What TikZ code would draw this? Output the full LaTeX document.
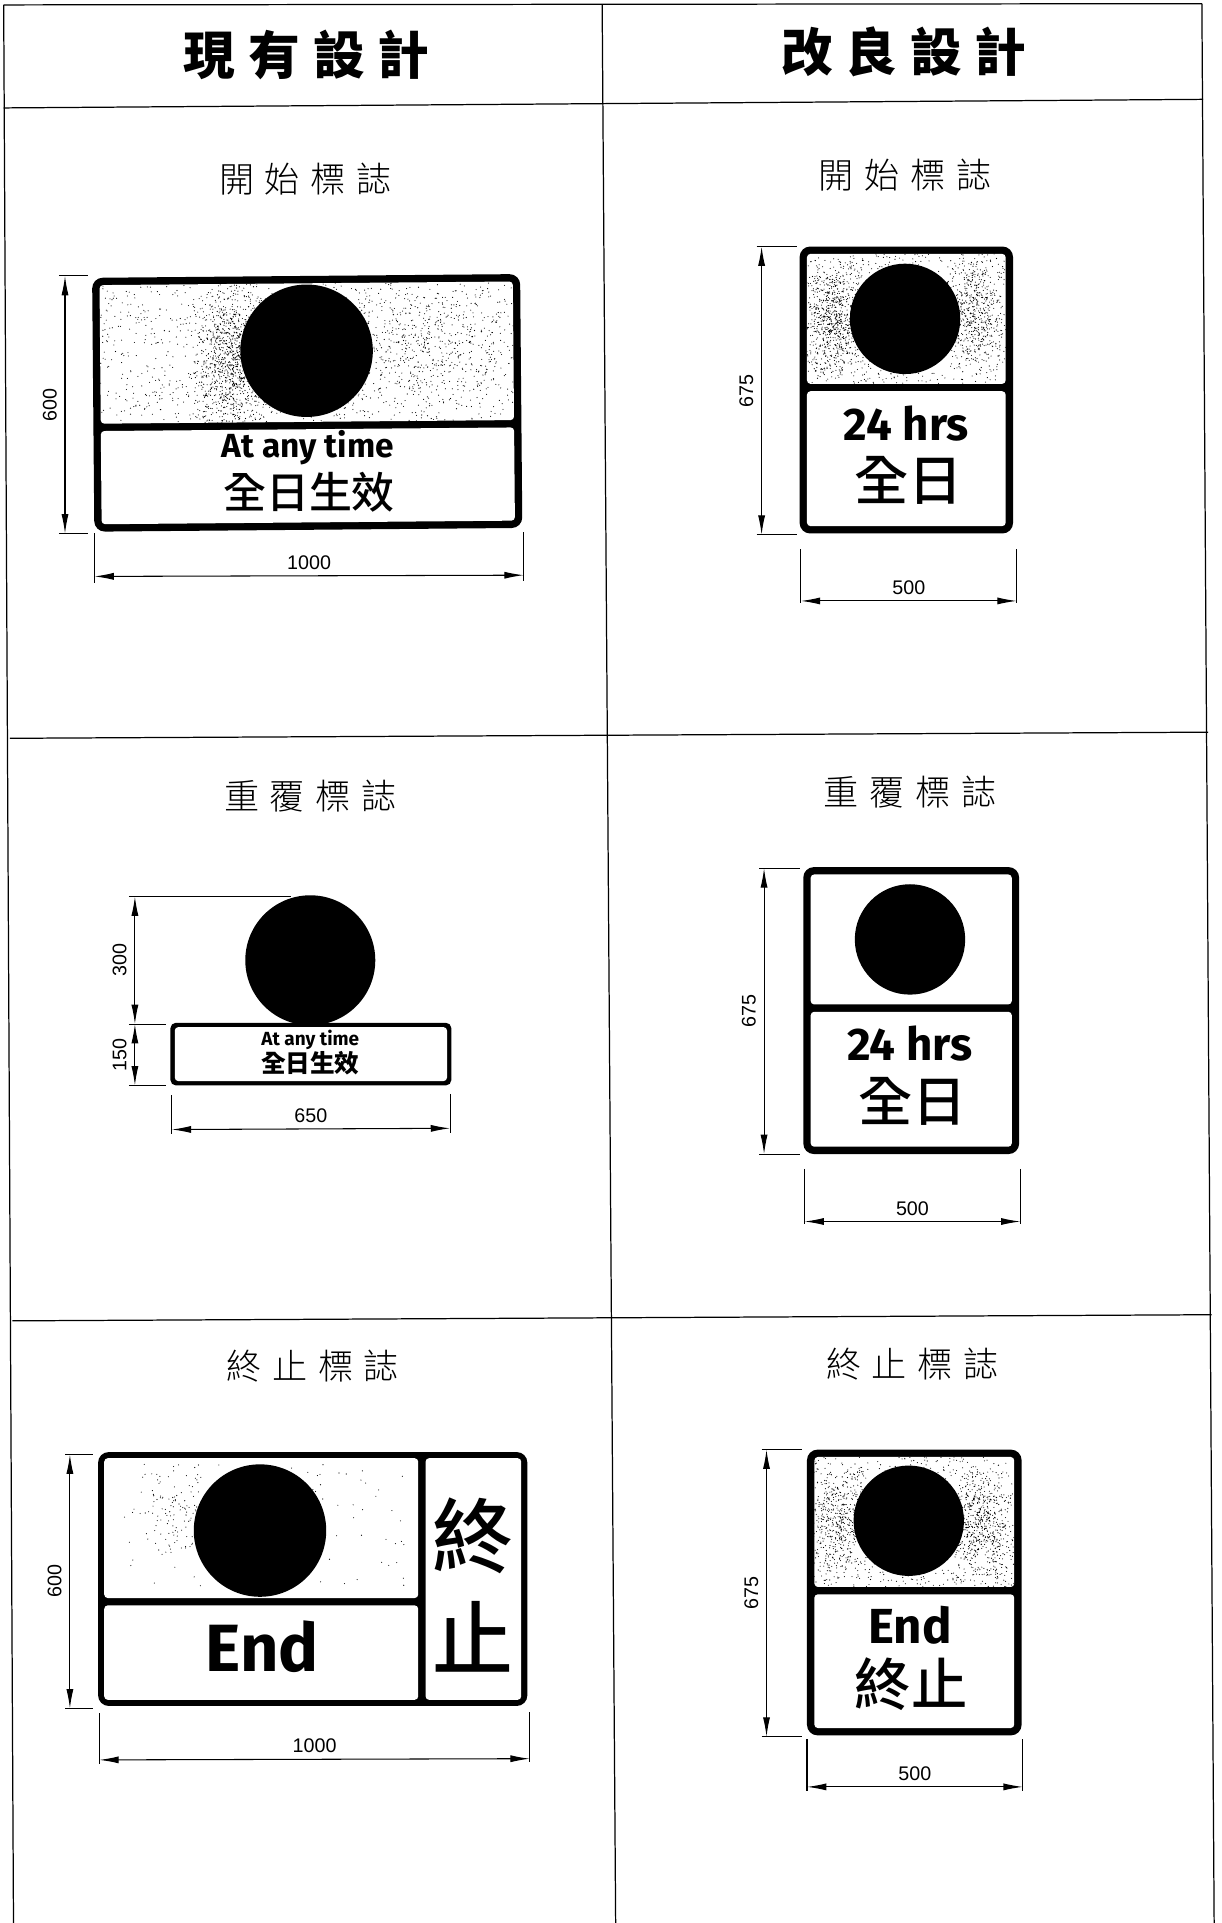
\documentclass[tikz,border=0pt]{standalone}
\usepackage{fontspec}
\usetikzlibrary{arrows.meta}
\setmainfont{Liberation Sans}
\newfontfamily\cjk{Noto Sans CJK TC}
\newfontfamily\cjkmed{Noto Sans CJK TC Medium}
\newfontfamily\cjklight{Noto Sans CJK TC Light}
\newfontfamily\signfont{Fira Sans}
\newcommand{\speckle}[5]{\fill \foreach \i in {1,...,#5} {({#1+rnd*#3},{#2+rnd*#4}) circle (0.45)};}
\newcommand{\speckleblob}[5]{\fill \foreach \i in {1,...,#5} {({#1+(rnd+rnd-1)*#3},{#2+(rnd+rnd-1)*#4}) circle (0.45)};}
\tikzset{
  sheetline/.style={line width=0.35pt},
  signback/.style={fill=black, rounded corners=3pt},
  panel/.style={fill=white, rounded corners=1pt},
  disc/.style={fill=black},
  dimension/.style={line width=0.3pt, {Latex[length=5.5pt,width=2pt]}-{Latex[length=5.5pt,width=2pt]}},
  extension/.style={line width=0.3pt},
  dimv/.style={midway, rotate=90, anchor=south, font=\fontsize{5.6}{6}\selectfont, inner sep=2.2pt},
  dimh/.style={midway, anchor=south, font=\fontsize{5.6}{6}\selectfont, inner sep=1.6pt},
  heading/.style={font=\cjk\bfseries\fontsize{14.7}{16}\selectfont},
  signtitle/.style={font=\cjklight\fontsize{10}{12}\selectfont},
}
\begin{document}
\begin{tikzpicture}[x=0.012259cm, y=-0.012259cm]
\useasboundingbox (0,0) rectangle (996,1568);
\pgfmathsetseed{4711}
% table
\draw[sheetline] (3,4) -- (980,3);
\draw[sheetline] (3,4) -- (11,1568);
\draw[sheetline] (491,4) -- (502,1568);
\draw[sheetline] (980,3) -- (990,1568);
\draw[sheetline] (3,88) -- (981,81);
\draw[sheetline] (8,602) -- (985,597);
\draw[sheetline] (10,1077) -- (988,1072);
\node (headold) at (250,45) [heading] {現\hspace{.25em}有\hspace{.25em}設\hspace{.25em}計};
\node (headnew) at (737,42) [heading] {改\hspace{.25em}良\hspace{.25em}設\hspace{.25em}計};
% start sign, current
\node (titlea) at (249,146) [signtitle] {開\hspace{.3em}始\hspace{.3em}標\hspace{.3em}誌};
\begin{scope}[rotate around={0.5:(250,328)}]
\fill[signback] (76,225) rectangle (425,432);
\fill[panel] (82,231) rectangle (419,344);
\fill[panel] (82,350) rectangle (419,426);
\begin{scope}
\clip (82,231) rectangle (419,344);
\speckle{82}{231}{337}{113}{1100}
\speckleblob{190}{295}{38}{70}{1100}
\speckleblob{340}{280}{85}{60}{450}
\end{scope}
\end{scope}
\fill[disc] (250,286) circle (54);
\node (anytimea) at (251,365) {\signfont\bfseries\fontsize{9.5}{12}\selectfont At any time};
\node (alldaya) at (252,401) {\cjkmed\fontsize{12.2}{14}\selectfont 全日生效};
\coordinate (aup) at (53,225);
\coordinate (adown) at (53,435);
\draw[dimension] (aup) -- node[dimv] {600} (adown);
\draw[extension] (aup) ++(-5,0) -- ++(24,0);
\draw[extension] (adown) ++(-5,0) -- ++(24,0);
\coordinate (aleft) at (77,470);
\coordinate (aright) at (427,469);
\draw[dimension] (aleft) -- node[dimh] {1000} (aright);
\draw[extension] (aleft) ++(0,-35) -- ++(0,40);
\draw[extension] (aright) ++(0,-35) -- ++(0,40);
% start sign, improved
\node (titleb) at (738,143) [signtitle] {開\hspace{.3em}始\hspace{.3em}標\hspace{.3em}誌};
\fill[signback] (652,201) rectangle (826,435);
\fill[panel] (658,207) rectangle (820,313);
\fill[panel] (658,319) rectangle (820,429);
\begin{scope}
\clip (658,207) rectangle (820,313);
\speckle{658}{207}{162}{106}{800}
\speckleblob{680}{260}{28}{52}{650}
\speckleblob{795}{255}{28}{52}{450}
\end{scope}
\fill[disc] (738,260) circle (45);
\node (hoursb) at (739,345) {\signfont\bfseries\fontsize{13}{16}\selectfont 24 hrs};
\node (alldayb) at (741,392) {\cjkmed\fontsize{15.4}{17}\selectfont 全日};
\coordinate (bup) at (621,201);
\coordinate (bdown) at (621,436);
\draw[dimension] (bup) -- node[dimv] {675} (bdown);
\draw[extension] (bup) ++(-4,0) -- ++(33,0);
\draw[extension] (bdown) ++(-4,0) -- ++(33,0);
\coordinate (bleft) at (653,490);
\coordinate (bright) at (829,490);
\draw[dimension] (bleft) -- node[dimh] {500} (bright);
\draw[extension] (bleft) ++(0,-42) -- ++(0,44);
\draw[extension] (bright) ++(0,-42) -- ++(0,44);
% repeat sign, current
\node (titlec) at (253,649) [signtitle] {重\hspace{.3em}覆\hspace{.3em}標\hspace{.3em}誌};
\fill[disc] (253,783) circle (53);
\fill[signback, rounded corners=1.5pt] (139,834) rectangle (368,885);
\fill[panel] (142.5,837.5) rectangle (364.5,881.5);
\node (anytimec) at (253,848) {\signfont\bfseries\fontsize{5.4}{7}\selectfont At any time};
\node (alldayc) at (253,867) {\cjk\bfseries\fontsize{7}{8}\selectfont 全日生效};
\coordinate (cup) at (110,731);
\coordinate (cmid) at (110,835);
\coordinate (cdown) at (110,885);
\draw[dimension] (cup) -- node[dimv] {300} (cmid);
\draw[dimension] (cmid) -- node[dimv] {150} (cdown);
\draw[extension] (cup) ++(-5,0) -- ++(132,0);
\draw[extension] (cmid) ++(-5,0) -- ++(30,0);
\draw[extension] (cdown) ++(-5,0) -- ++(30,0);
\coordinate (cleft) at (140,921);
\coordinate (cright) at (367,920);
\draw[dimension] (cleft) -- node[dimh] {650} (cright);
\draw[extension] (cleft) ++(0,-28) -- ++(0,32);
\draw[extension] (cright) ++(0,-28) -- ++(0,32);
% repeat sign, improved
\node (titled) at (742,646) [signtitle] {重\hspace{.3em}覆\hspace{.3em}標\hspace{.3em}誌};
\fill[signback] (655,707) rectangle (831,941);
\fill[panel] (661,713) rectangle (825,819);
\fill[panel] (661,825) rectangle (825,935);
\fill[disc] (742,766) circle (45);
\node (hoursd) at (742,851) {\signfont\bfseries\fontsize{13}{16}\selectfont 24 hrs};
\node (alldayd) at (744,898) {\cjkmed\fontsize{15.4}{17}\selectfont 全日};
\coordinate (dup) at (623,708);
\coordinate (ddown) at (623,941);
\draw[dimension] (dup) -- node[dimv] {675} (ddown);
\draw[extension] (dup) ++(-4,0) -- ++(33,0);
\draw[extension] (ddown) ++(-4,0) -- ++(33,0);
\coordinate (dleft) at (656,996);
\coordinate (dright) at (832,996);
\draw[dimension] (dleft) -- node[dimh] {500} (dright);
\draw[extension] (dleft) ++(0,-43) -- ++(0,45);
\draw[extension] (dright) ++(0,-43) -- ++(0,45);
% end sign, current
\node (titlee) at (255,1114) [signtitle] {終\hspace{.3em}止\hspace{.3em}標\hspace{.3em}誌};
\fill[signback] (80,1184) rectangle (430,1391);
\fill[panel] (85,1189) rectangle (341,1303);
\fill[panel] (85,1309) rectangle (341,1386);
\fill[panel] (347,1189) rectangle (425,1386);
\begin{scope}
\clip (85,1189) rectangle (341,1303);
\speckle{90}{1192}{245}{105}{110}
\speckleblob{145}{1235}{32}{45}{120}
\end{scope}
\fill[disc] (212,1248) circle (54);
\node (ende) at (214,1343) {\signfont\bfseries\fontsize{19}{21}\selectfont End};
\node (zhonge) at (386,1252) {\cjkmed\fontsize{23}{25}\selectfont 終};
\node (zhie) at (386,1335) {\cjkmed\fontsize{23}{25}\selectfont 止};
\coordinate (eup) at (57,1186);
\coordinate (edown) at (57,1393);
\draw[dimension] (eup) -- node[dimv] {600} (edown);
\draw[extension] (eup) ++(-4,0) -- ++(23,0);
\draw[extension] (edown) ++(-4,0) -- ++(23,0);
\coordinate (eleft) at (81,1435);
\coordinate (eright) at (432,1434);
\draw[dimension] (eleft) -- node[dimh] {1000} (eright);
\draw[extension] (eleft) ++(0,-38) -- ++(0,41);
\draw[extension] (eright) ++(0,-38) -- ++(0,41);
% end sign, improved
\node (titlef) at (744,1112) [signtitle] {終\hspace{.3em}止\hspace{.3em}標\hspace{.3em}誌};
\fill[signback] (658,1182) rectangle (833,1415);
\fill[panel] (664,1188) rectangle (827,1294);
\fill[panel] (664,1300) rectangle (827,1409);
\begin{scope}
\clip (664,1188) rectangle (827,1294);
\speckle{664}{1188}{163}{106}{800}
\speckleblob{685}{1240}{28}{50}{450}
\speckleblob{800}{1245}{28}{50}{500}
\end{scope}
\fill[disc] (741,1240) circle (45);
\node (endf) at (742,1325) {\signfont\bfseries\fontsize{14}{16}\selectfont End};
\node (zhongzhif) at (743,1373) {\cjkmed\fontsize{16}{18}\selectfont 終止};
\coordinate (fup) at (625,1182);
\coordinate (fdown) at (625,1416);
\draw[dimension] (fup) -- node[dimv] {675} (fdown);
\draw[extension] (fup) ++(-4,0) -- ++(33,0);
\draw[extension] (fdown) ++(-4,0) -- ++(33,0);
\coordinate (fleft) at (658,1457);
\coordinate (fright) at (834,1457);
\draw[dimension] (fleft) -- node[dimh] {500} (fright);
\draw[extension] (fleft) ++(0,-39) -- ++(0,42);
\draw[extension] (fright) ++(0,-39) -- ++(0,42);
\end{tikzpicture}
\end{document}
